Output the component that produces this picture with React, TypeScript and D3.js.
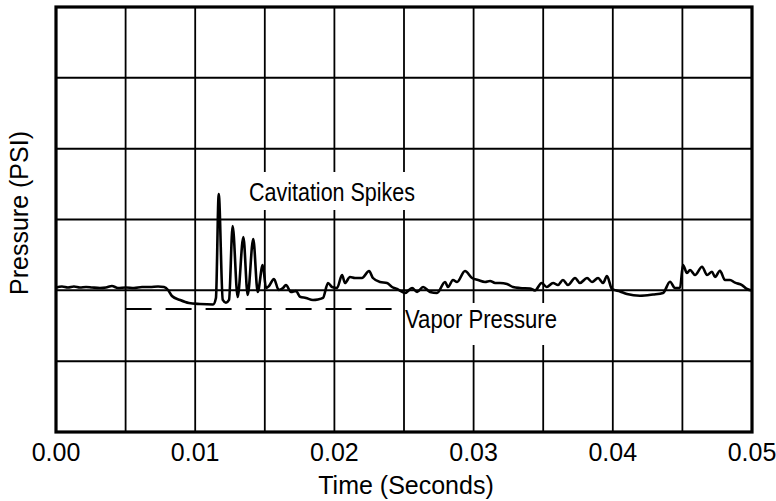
import React from "react";
import * as d3 from "d3";

const xTickLabels = ["0.00", "0.01", "0.02", "0.03", "0.04", "0.05"];
const xTickValues = [0, 0.01, 0.02, 0.03, 0.04, 0.05];
const xGridValues = [0, 0.005, 0.01, 0.015, 0.02, 0.025, 0.03, 0.035, 0.04, 0.045, 0.05];
const yGridValues = [0, 1, 2, 3, 4, 5, 6];

const time = [
  0.0, 0.00043, 0.00086, 0.00129, 0.00172, 0.00216, 0.00259, 0.00316, 0.00359, 0.00402,
  0.00445, 0.00502, 0.0056, 0.00618, 0.00675, 0.00733, 0.00776, 0.00805, 0.00833, 0.00891,
  0.00955, 0.01034, 0.01128, 0.01149, 0.01169, 0.01198, 0.01221, 0.01243, 0.01269, 0.01305,
  0.01346, 0.01377, 0.01417, 0.01449, 0.01485, 0.01509, 0.0153, 0.01566, 0.016, 0.01631,
  0.01652, 0.01688, 0.01724, 0.01753, 0.01796, 0.01846, 0.01882, 0.01918, 0.01954, 0.01983,
  0.02019, 0.02055, 0.02076, 0.02112, 0.02148, 0.02198, 0.02249, 0.02277, 0.02328, 0.02378,
  0.02414, 0.0245, 0.02507, 0.02558, 0.02594, 0.02637, 0.02687, 0.02737, 0.02795, 0.02816,
  0.02852, 0.02881, 0.02938, 0.02989, 0.03032, 0.03082, 0.03118, 0.03154, 0.0319, 0.0324,
  0.03283, 0.03333, 0.03405, 0.03441, 0.03489, 0.03525, 0.03571, 0.03606, 0.03642, 0.03678,
  0.03729, 0.03764, 0.03815, 0.03851, 0.03894, 0.0393, 0.03958, 0.03994, 0.04052, 0.04102,
  0.04195, 0.04289, 0.04361, 0.04411, 0.04447, 0.04483, 0.04504, 0.04533, 0.04555, 0.04591,
  0.04641, 0.04677, 0.04713, 0.04734, 0.0477, 0.04806, 0.04842, 0.04878, 0.04928, 0.04964,
  0.05,
];

const pressure = [
  2.04, 2.054, 2.04, 2.054, 2.04, 2.047, 2.04, 2.033, 2.04, 2.061,
  2.033, 2.04, 2.033, 2.047, 2.047, 2.054, 2.047, 2.005, 1.92, 1.864,
  1.821, 1.807, 1.8, 1.892, 3.36, 1.864, 1.825, 1.864, 2.908, 1.906,
  2.753, 1.934, 2.725, 1.977, 2.358, 2.033, 2.061, 2.16, 2.005, 2.033,
  2.075, 1.977, 1.991, 1.91, 1.892, 1.864, 1.871, 1.892, 2.104, 2.047,
  2.033, 2.217, 2.104, 2.188, 2.174, 2.174, 2.273, 2.174, 2.118, 2.104,
  2.047, 2.019, 1.962, 2.033, 1.977, 2.047, 1.977, 1.962, 2.118, 2.047,
  2.146, 2.118, 2.273, 2.174, 2.146, 2.118, 2.132, 2.104, 2.104, 2.089,
  2.047, 2.033, 2.026, 1.998, 2.104, 2.047, 2.104, 2.075, 2.146, 2.075,
  2.174, 2.104, 2.174, 2.118, 2.174, 2.104, 2.202, 2.019, 1.984, 1.948,
  1.924, 1.941, 1.962, 2.122, 2.033, 2.033, 2.358, 2.245, 2.287, 2.217,
  2.334, 2.217, 2.263, 2.188, 2.277, 2.146, 2.146, 2.108, 2.075, 2.019,
  1.998,
];

const vaporTime = [0.005, 0.0242];
const vaporPressure = [1.737, 1.737];

const W = 776;
const H = 501;
const left = 56, right = 752, top = 7, bottom = 432;

export default function App() {
  const x = d3.scaleLinear().domain([0, 0.05]).range([left, right]);
  const y = d3.scaleLinear().domain([0, 6]).range([bottom, top]);

  const pts: [number, number][] = time.map((t, i) => [t, pressure[i]]);
  const line = d3
    .line<[number, number]>()
    .x((d) => x(d[0]))
    .y((d) => y(d[1]))
    .curve(d3.curveMonotoneX);

  const vpts: [number, number][] = vaporTime.map((t, i) => [t, vaporPressure[i]]);
  const vline = d3
    .line<[number, number]>()
    .x((d) => x(d[0]))
    .y((d) => y(d[1]));

  const narrow = "'Liberation Sans Narrow', 'Liberation Sans', Arial, sans-serif";

  return (
    <svg
      width={W}
      height={H}
      style={{ position: "absolute", left: 0, top: 0, background: "#fff" }}
    >
      <rect x={0} y={0} width={W} height={H} fill="#fff" />
      {xGridValues.map((v) => (
        <line key={"gx" + v} x1={x(v)} x2={x(v)} y1={y(6)} y2={y(0)} stroke="#000" strokeWidth={1.8} />
      ))}
      {yGridValues.map((v) => (
        <line key={"gy" + v} x1={x(0)} x2={x(0.05)} y1={y(v)} y2={y(v)} stroke="#000" strokeWidth={2} />
      ))}
      {/* label backgrounds masking grid */}
      <rect x={244} y={172} width={178} height={38} fill="#fff" />
      <rect x={407} y={303} width={193} height={42} fill="#fff" />
      <rect
        x={x(0)}
        y={y(6)}
        width={x(0.05) - x(0)}
        height={y(0) - y(6)}
        fill="none"
        stroke="#000"
        strokeWidth={3.2}
      />
      <path d={vline(vpts) || ""} fill="none" stroke="#000" strokeWidth={2} strokeDasharray="26 14" />
      <path d={line(pts) || ""} fill="none" stroke="#000" strokeWidth={2.6} strokeLinejoin="round" />
      <text x={249} y={201} fontFamily={narrow} fontSize={25} textLength={166} lengthAdjust="spacingAndGlyphs">
        Cavitation Spikes
      </text>
      <text x={405} y={328} fontFamily={narrow} fontSize={25} textLength={152} lengthAdjust="spacingAndGlyphs">
        Vapor Pressure
      </text>
      {xTickValues.map((v, i) => (
        <text key={"xt" + v} x={x(v)} y={461} textAnchor="middle" fontFamily={narrow} fontSize={25}>
          {xTickLabels[i]}
        </text>
      ))}
      <text x={(left + right) / 2 + 2} y={494} textAnchor="middle" fontFamily={narrow} fontSize={25}>
        Time (Seconds)
      </text>
      <text
        transform={`translate(28, 213) rotate(-90)`}
        textAnchor="middle"
        fontFamily="'Liberation Sans', Arial, sans-serif"
        fontSize={25}
      >
        Pressure (PSI)
      </text>
    </svg>
  );
}
